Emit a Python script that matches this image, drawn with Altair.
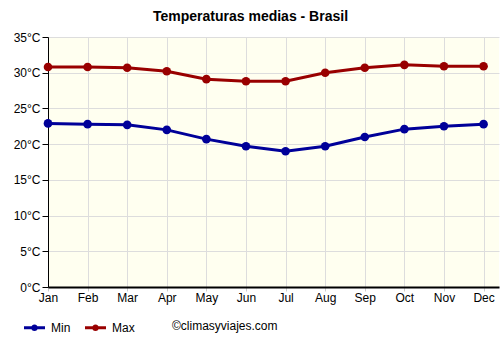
import altair as alt
import pandas as pd

months = ["Jan", "Feb", "Mar", "Apr", "May", "Jun", "Jul", "Aug", "Sep", "Oct", "Nov", "Dec"]
t_min = [22.9, 22.8, 22.7, 22.0, 20.7, 19.7, 19.0, 19.7, 21.0, 22.1, 22.5, 22.8]
t_max = [30.8, 30.8, 30.7, 30.2, 29.1, 28.8, 28.8, 30.0, 30.7, 31.1, 30.9, 30.9]
y_ticks = [0, 5, 10, 15, 20, 25, 30, 35]

rows = []
for i, m in enumerate(months):
    rows.append({"idx": i, "month": m, "serie": "Min", "temp": t_min[i]})
    rows.append({"idx": i, "month": m, "serie": "Max", "temp": t_max[i]})
df = pd.DataFrame(rows)

month_arr = "[" + ",".join("'%s'" % m for m in months) + "]"
FONT = "Liberation Sans"

symbol_path = ("M-1,-0.14L1,-0.14L1,0.14L-1,0.14Z "
               "M-0.32,0A0.32,0.32 0 1,1 0.32,0A0.32,0.32 0 1,1 -0.32,0Z")

lines = alt.Chart(df).mark_line(
    strokeWidth=3, point=alt.OverlayMarkDef(filled=True, size=75, opacity=1)
).encode(
    x=alt.X("idx:Q",
            scale=alt.Scale(domain=[0, 11.39], nice=False, zero=False),
            axis=alt.Axis(values=list(range(12)), labelExpr=month_arr + "[datum.value]",
                          title=None, grid=True, gridColor="#dddddd", gridWidth=1,
                          domainColor="#000000", domainWidth=2, tickColor="#cccccc",
                          tickSize=4, labelFont=FONT, labelFontSize=12, labelColor="#000000",
                          labelPadding=1, labelFlush=False)),
    y=alt.Y("temp:Q",
            scale=alt.Scale(domain=[0, 35], nice=False),
            axis=alt.Axis(values=y_ticks, labelExpr="datum.value + '°C'", title=None,
                          grid=True, gridColor="#dddddd", gridWidth=1,
                          domainColor="#000000", domainWidth=1, tickColor="#000000",
                          tickSize=6, labelFont=FONT, labelFontSize=12, labelColor="#000000",
                          labelPadding=2)),
    color=alt.Color("serie:N",
                    scale=alt.Scale(domain=["Min", "Max"], range=["#000099", "#990000"]),
                    legend=alt.Legend(orient="none", legendX=-24, legendY=280,
                                      direction="horizontal", title=None,
                                      symbolType=symbol_path, symbolSize=441,
                                      symbolStrokeWidth=0, symbolOpacity=1,
                                      labelFont=FONT, labelFontSize=12, labelColor="#000000",
                                      columnPadding=14, labelOffset=6)),
)

credit = alt.Chart(pd.DataFrame({"t": ["©climasyviajes.com"]})).mark_text(
    font=FONT, fontSize=12, align="left", baseline="middle", color="#000000"
).encode(x=alt.value(124), y=alt.value(289), text="t:N")

chart = alt.layer(lines, credit).properties(
    width=451, height=250,
    padding={"left": 48, "top": 37, "right": 1, "bottom": 63},
    autosize=alt.AutoSizeParams(type="none"),
    title=alt.TitleParams("Temperaturas medias - Brasil", font=FONT, fontSize=14,
                          fontWeight="bold", color="#000000", dx=-23, offset=7),
).configure_view(fill="#fffff0", stroke=None)

chart.save("out.html", embed_options={"renderer": "svg", "actions": False})
